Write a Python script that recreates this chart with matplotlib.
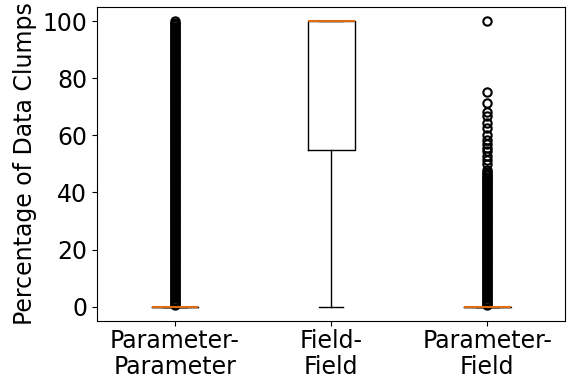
import matplotlib
matplotlib.use("Agg")
import matplotlib.pyplot as plt

# box statistics
labels = ["Parameter-\nParameter", "Field-\nField", "Parameter-\nField"]
q1 = [0, 55, 0]
med = [0, 100, 0]
q3 = [0, 100, 0]
whislo = [0, 0, 0]
whishi = [0, 100, 0]

# outliers (dense columns of circles)
fliers_pp = [0.5, 1, 1.5, 2, 2.5, 3, 3.5, 4, 4.5, 5, 5.5, 6, 6.5, 7, 7.5, 8, 8.5, 9, 9.5, 10,
             10.5, 11, 11.5, 12, 12.5, 13, 13.5, 14, 14.5, 15, 15.5, 16, 16.5, 17, 17.5, 18, 18.5, 19, 19.5, 20,
             20.5, 21, 21.5, 22, 22.5, 23, 23.5, 24, 24.5, 25, 25.5, 26, 26.5, 27, 27.5, 28, 28.5, 29, 29.5, 30,
             30.5, 31, 31.5, 32, 32.5, 33, 33.5, 34, 34.5, 35, 35.5, 36, 36.5, 37, 37.5, 38, 38.5, 39, 39.5, 40,
             40.5, 41, 41.5, 42, 42.5, 43, 43.5, 44, 44.5, 45, 45.5, 46, 46.5, 47, 47.5, 48, 48.5, 49, 49.5, 50,
             50.5, 51, 51.5, 52, 52.5, 53, 53.5, 54, 54.5, 55, 55.5, 56, 56.5, 57, 57.5, 58, 58.5, 59, 59.5, 60,
             60.5, 61, 61.5, 62, 62.5, 63, 63.5, 64, 64.5, 65, 65.5, 66, 66.5, 67, 67.5, 68, 68.5, 69, 69.5, 70,
             70.5, 71, 71.5, 72, 72.5, 73, 73.5, 74, 74.5, 75, 75.5, 76, 76.5, 77, 77.5, 78, 78.5, 79, 79.5, 80,
             80.5, 81, 81.5, 82, 82.5, 83, 83.5, 84, 84.5, 85, 85.5, 86, 86.5, 87, 87.5, 88, 88.5, 89, 89.5, 90,
             90.5, 91, 91.5, 92, 92.5, 93, 93.5, 94, 94.5, 95, 95.5, 96, 96.5, 97, 97.5, 98, 98.5, 99, 99.5, 100]
fliers_ff = []
fliers_pf = [0.5, 1, 1.5, 2, 2.5, 3, 3.5, 4, 4.5, 5, 5.5, 6, 6.5, 7, 7.5, 8, 8.5, 9, 9.5, 10,
             10.5, 11, 11.5, 12, 12.5, 13, 13.5, 14, 14.5, 15, 15.5, 16, 16.5, 17, 17.5, 18, 18.5, 19, 19.5, 20,
             20.5, 21, 21.5, 22, 22.5, 23, 23.5, 24, 24.5, 25, 25.5, 26, 26.5, 27, 27.5, 28, 28.5, 29, 29.5, 30,
             30.5, 31, 31.5, 32, 32.5, 33, 33.5, 34, 34.5, 35, 35.5, 36, 36.5, 37, 37.5, 38, 38.5, 39, 39.5, 40,
             40.5, 41, 41.5, 42, 42.5, 43, 43.5, 44, 44.5, 45, 45.5, 46, 46.5, 47, 48, 50,
             51.5, 52.9, 54.5, 55.6, 57.1, 58.3, 60, 62.5, 64.3, 66.7, 68.2, 71.4, 75, 100]
fliers = [fliers_pp, fliers_ff, fliers_pf]

stats = []
for i in range(len(labels)):
    stats.append({"label": labels[i], "q1": q1[i], "med": med[i], "q3": q3[i],
                  "whislo": whislo[i], "whishi": whishi[i], "fliers": fliers[i]})

plt.rcParams["font.size"] = 17
fig, ax = plt.subplots(figsize=(5.67, 3.78), dpi=100)
ax.bxp(stats, showfliers=True,
       flierprops={"markeredgewidth": 1.5},
       medianprops={"color": "#e06a10", "linewidth": 1.5})

ax.set_ylabel("Percentage of Data Clumps")
ax.set_yticks([0, 20, 40, 60, 80, 100])
ax.tick_params(axis="x", pad=2.5)
for t in ax.get_xticklabels():
    t.set_linespacing(1.1)

fig.subplots_adjust(left=0.171, right=0.997, top=0.982, bottom=0.151)
plt.savefig("out.png")
